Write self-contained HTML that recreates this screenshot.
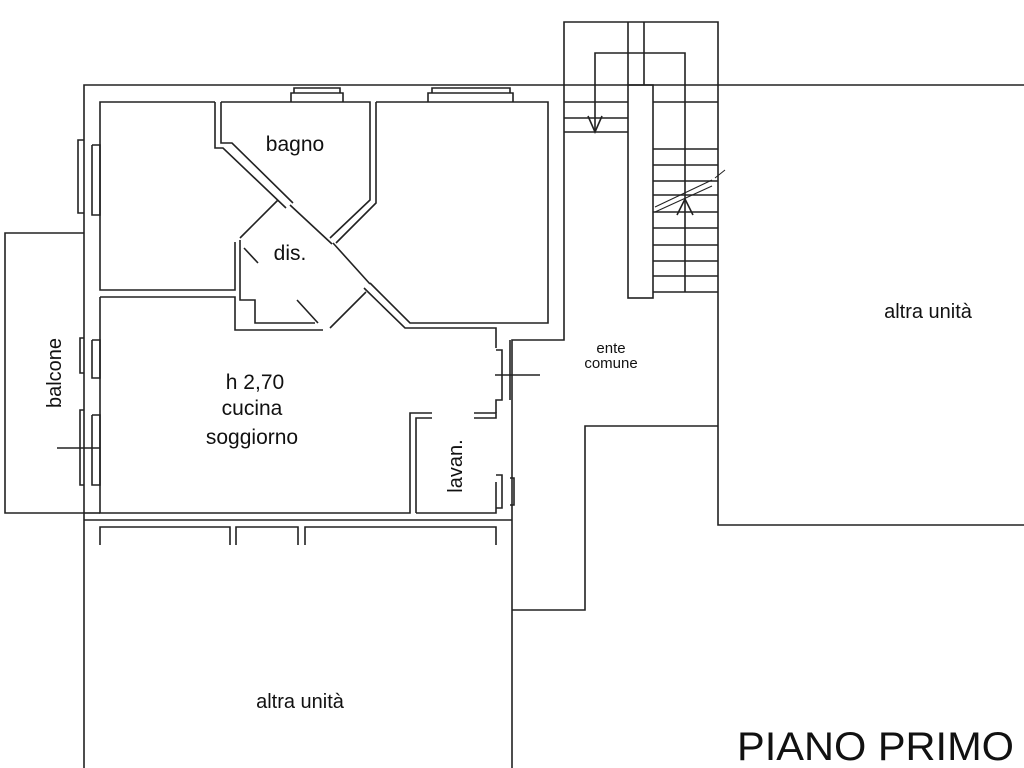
<!DOCTYPE html>
<html><head><meta charset="utf-8"><style>
html,body{margin:0;padding:0;background:#fff;}
svg{display:block;}
text{font-family:"Liberation Sans",Arial,sans-serif;fill:#111;}
</style></head><body>
<svg width="1024" height="768" viewBox="0 0 1024 768" xmlns="http://www.w3.org/2000/svg">
<g fill="none" stroke="#222" stroke-width="1.6">
<!-- outer walls -->
<polyline points="84,768 84,85 1024,85"/>
<polyline points="512,768 512,340 564,340 564,22 718,22 718,525 1024,525"/>
<polyline points="512,610 585,610 585,426 718,426"/>
<!-- bottom wall -->
<line x1="84" y1="520" x2="512" y2="520"/>
<polyline points="100,545 100,527 230,527 230,545"/>
<polyline points="236,545 236,527 298,527 298,545"/>
<polyline points="305,545 305,527 496,527 496,545"/>
<!-- balcone -->
<polyline points="84,233 5,233 5,513 84,513"/>
<!-- room 1 -->
<polyline points="215,102 100,102 100,290 235,290 235,242"/>
<!-- bagno / diagonal walls -->
<polyline points="215,102 215,148 223,148 286,208"/>
<polyline points="221,102 221,143 232,143 293,203"/>
<line x1="290" y1="205" x2="332" y2="244"/>
<polyline points="221,102 370,102 370,200 330,238"/>
<polyline points="376,102 548,102 548,323 410,323 370,283"/>
<polyline points="376,102 376,203 336,243"/>
<line x1="333" y1="243" x2="370" y2="284"/>
<polyline points="364,288 405,328 496,328 496,348"/>
<!-- dis -->
<line x1="278" y1="200" x2="240" y2="238"/>
<line x1="366" y1="292" x2="330" y2="328"/>
<polyline points="240,240 240,300 255,300 255,323 315,323"/>
<line x1="244" y1="248" x2="258" y2="263"/>
<line x1="297" y1="300" x2="318" y2="323"/>
<!-- cucina -->
<polyline points="100,297 235,297 235,330 323,330"/>
<polyline points="100,297 100,513 410,513 410,413 432,413"/>
<polyline points="416,513 416,418 432,418"/>
<polyline points="474,413 496,413 496,418 474,418"/>
<polyline points="416,513 496,513 496,482"/>
<line x1="84" y1="513" x2="100" y2="513"/>
<polyline points="496,413 496,400 502,400 502,350 496,350"/>
<line x1="510" y1="340" x2="510" y2="400"/>
<!-- left windows -->
<polyline points="84,140 78,140 78,213 84,213"/>
<polyline points="92,145 100,145 100,215 92,215 92,145"/>
<polyline points="84,338 80,338 80,373 84,373"/>
<polyline points="92,340 100,340 100,378 92,378 92,340"/>
<polyline points="84,410 80,410 80,485 84,485"/>
<polyline points="92,415 100,415 100,485 92,485 92,415"/>
<line x1="57" y1="448" x2="100" y2="448"/>
<line x1="495" y1="375" x2="540" y2="375"/>
<!-- right small windows -->
<polyline points="496,475 502,475 502,508 496,508"/>
<polyline points="510,478 514,478 514,505 510,505"/>
<!-- top windows -->
<polyline points="291,102 291,93 343,93 343,102"/>
<polyline points="294,93 294,88 340,88 340,93"/>
<polyline points="428,102 428,93 513,93 513,102"/>
<polyline points="432,93 432,88 510,88 510,93"/>
<!-- stairs -->
<rect x="628" y="85" width="25" height="213"/>
<line x1="628" y1="22" x2="628" y2="85"/>
<line x1="644" y1="22" x2="644" y2="85"/>
<polyline points="595,132 595,53 685,53 685,292"/>
<line x1="564" y1="102" x2="628" y2="102"/>
<line x1="564" y1="118" x2="628" y2="118"/>
<line x1="564" y1="132" x2="628" y2="132"/>
<polyline points="588,116 595,132 602,116"/>
<g>
<line x1="653" y1="102" x2="718" y2="102"/>
<line x1="653" y1="149" x2="718" y2="149"/>
<line x1="653" y1="165" x2="718" y2="165"/>
<line x1="653" y1="181" x2="718" y2="181"/>
<line x1="653" y1="195" x2="718" y2="195"/>
<line x1="653" y1="212" x2="718" y2="212"/>
<line x1="653" y1="228" x2="718" y2="228"/>
<line x1="653" y1="245" x2="718" y2="245"/>
<line x1="653" y1="261" x2="718" y2="261"/>
<line x1="653" y1="276" x2="718" y2="276"/>
<line x1="653" y1="292" x2="718" y2="292"/>
</g>
<polyline points="677,215 685,199 693,215"/>
<line x1="655" y1="207" x2="712" y2="180" stroke-width="1"/>
<line x1="655" y1="212" x2="712" y2="186" stroke-width="1"/>
<line x1="715" y1="178" x2="725" y2="170" stroke-width="1"/>
</g>
<text x="295" y="151" font-size="21" text-anchor="middle">bagno</text>
<text x="290" y="260" font-size="21" text-anchor="middle">dis.</text>
<text x="255" y="389" font-size="21" text-anchor="middle">h 2,70</text>
<text x="252" y="415" font-size="21" text-anchor="middle">cucina</text>
<text x="252" y="444" font-size="21" text-anchor="middle">soggiorno</text>
<text x="928" y="318" font-size="20" text-anchor="middle">altra unità</text>
<text x="300" y="708" font-size="20" text-anchor="middle">altra unità</text>
<text x="611" y="353" font-size="15" text-anchor="middle">ente</text>
<text x="611" y="368" font-size="15" text-anchor="middle">comune</text>
<text transform="translate(61,373) rotate(-90)" font-size="20" text-anchor="middle">balcone</text>
<text transform="translate(462,466) rotate(-90)" font-size="20" text-anchor="middle">lavan.</text>
<text x="737" y="760" font-size="40" textLength="277" lengthAdjust="spacingAndGlyphs" style="font-weight:300">PIANO PRIMO</text>
</svg>
</body></html>
